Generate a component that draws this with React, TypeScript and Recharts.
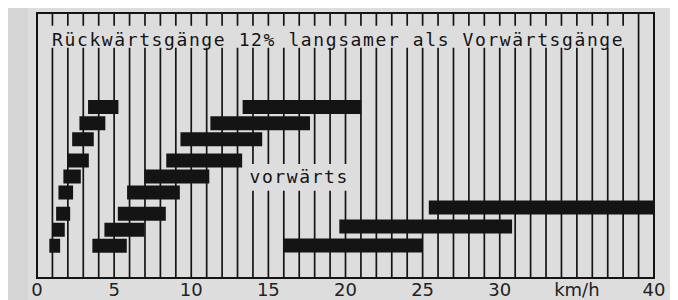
import React from 'react';
import { BarChart, Bar, XAxis, YAxis, CartesianGrid, ReferenceArea } from 'recharts';

// --- Geschwindigkeitsbereiche in km/h (von unten nach oben) ---
const reverseFrom = [0.8, 0.98, 1.24, 1.39, 1.71, 2.0, 2.28, 2.75, 3.31];
const reverseTo = [1.5, 1.8, 2.15, 2.34, 2.84, 3.36, 3.68, 4.43, 5.28];
const forwardFrom = [3.59, 4.37, 5.24, 5.84, 6.96, 8.38, 9.3, 11.24, 13.33];
const forwardTo = [5.82, 6.96, 8.35, 9.26, 11.17, 13.3, 14.6, 17.7, 21.02];
const roadFrom = [16.0, 19.6, 25.4];
const roadTo = [25.0, 30.8, 40.0];

const kmTicks = [
  0, 1, 2, 3, 4, 5, 6, 7, 8, 9, 10, 11, 12, 13, 14, 15, 16, 17, 18, 19, 20,
  21, 22, 23, 24, 25, 26, 27, 28, 29, 30, 31, 32, 33, 34, 35, 36, 37, 38, 39, 40,
];
const tickLabels: Record<number, string> = {
  0: '0', 5: '5', 10: '10', 15: '15', 20: '20', 25: '25', 30: '30', 35: 'km/h', 40: '40',
};

const TITLE = 'Rückwärtsgänge 12% langsamer als Vorwärtsgänge';
const FORWARD_LABEL = 'vorwärts';

const PANEL = '#dddddd';
const INK = '#141414';
const Y_DOMAIN: [number, number] = [-2, 14.5];

// lanes: gears grouped in threes with a small gap, road gears a bit wider apart
const gearLane = (i: number) => i + Math.floor(i / 3) * 0.32;
const roadLane = (i: number) => i * 1.18;

const rows = [
  ...reverseFrom.map((v, i) => ({ gearLane: gearLane(i), gearRange: [v, reverseTo[i]] })),
  ...forwardFrom.map((v, i) => ({ gearLane: gearLane(i), gearRange: [v, forwardTo[i]] })),
  ...roadFrom.map((v, i) => ({ roadLane: roadLane(i), roadRange: [v, roadTo[i]] })),
];

const BandText = (props: any) => {
  const { viewBox, text, baseline } = props;
  if (!viewBox) return null;
  return (
    <text
      x={viewBox.x + viewBox.width / 2}
      y={viewBox.y + baseline}
      textAnchor="middle"
      fontFamily="DejaVu Sans Mono"
      fontSize={18}
      letterSpacing={1.6}
      fill={INK}
    >
      {text}
    </text>
  );
};

const App = () => {
  return (
    <div style={{ position: 'relative', width: 670, height: 292, background: '#d5d5d5' }}>
      <div style={{ position: 'absolute', left: 20, top: 0, width: 642, height: 292, background: PANEL }}>
        <BarChart
          width={642}
          height={292}
          data={rows}
          layout="vertical"
          margin={{ top: 5, right: 16, left: 9, bottom: 0 }}
        >
          <CartesianGrid vertical horizontal={false} stroke={INK} strokeWidth={1.7} strokeOpacity={1} yAxisId="g" />
          <XAxis
            type="number"
            domain={[0, 40]}
            ticks={kmTicks}
            interval={0}
            height={22}
            tickLine={false}
            tickSize={0}
            tickMargin={5}
            axisLine={false}
            tickFormatter={(v: number) => tickLabels[v] ?? ''}
            tick={{ fontFamily: 'DejaVu Sans', fontSize: 18, fill: '#222' }}
          />
          <YAxis yAxisId="g" type="number" dataKey="gearLane" domain={Y_DOMAIN} allowDataOverflow reversed hide />
          <YAxis yAxisId="r" type="number" dataKey="roadLane" domain={Y_DOMAIN} allowDataOverflow reversed hide />
          <ReferenceArea
            yAxisId="g"
            x1={0.65}
            x2={38.4}
            y1={12.33}
            y2={13.7}
            fill={PANEL}
            fillOpacity={1}
            stroke="none"
            label={<BandText text={TITLE} baseline={20} />}
          />
          <ReferenceArea
            yAxisId="g"
            x1={13.5}
            x2={20.5}
            y1={3.43}
            y2={5.1}
            fill={PANEL}
            fillOpacity={1}
            stroke="none"
            label={<BandText text={FORWARD_LABEL} baseline={19} />}
          />
          <ReferenceArea
            yAxisId="g"
            x1={0}
            x2={40}
            y1={Y_DOMAIN[0]}
            y2={Y_DOMAIN[1]}
            fill="none"
            stroke={INK}
            strokeWidth={2}
          />
          <Bar yAxisId="g" dataKey="gearRange" fill={INK} barSize={14} isAnimationActive={false} />
          <Bar yAxisId="r" dataKey="roadRange" fill={INK} barSize={14} isAnimationActive={false} />
        </BarChart>
      </div>
    </div>
  );
};

export default App;
